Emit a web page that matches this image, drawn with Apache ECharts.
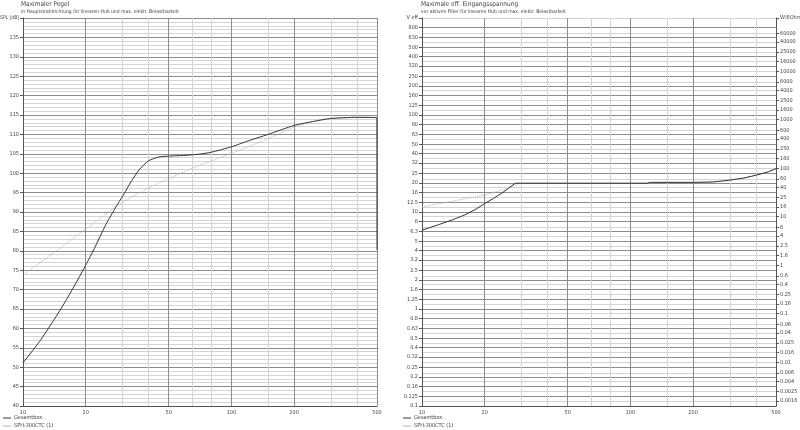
<!DOCTYPE html>
<html><head><meta charset="utf-8">
<script src="https://cdn.jsdelivr.net/npm/echarts@6/dist/echarts.min.js"></script>
<style>html,body{margin:0;padding:0;background:#fff}#c{width:800px;height:430px}</style>
</head><body><div id="c"></div>
<script>
// ---- Left panel: maximum SPL ----
const splFreq    = [10, 12, 14, 16, 18, 20, 22, 25, 28, 30, 33, 36, 40, 45, 50, 60, 70, 80, 100, 120, 150, 200, 250, 300, 400, 499, 500];
const splGesamt  = [51.1, 56.6, 62.0, 67.0, 71.8, 76.3, 80.6, 86.8, 91.4, 94.0, 97.8, 100.8, 103.2, 104.2, 104.4, 104.6, 104.9, 105.4, 106.8, 108.3, 110.0, 112.3, 113.4, 114.1, 114.4, 114.3, 80.2];
const splSphFreq = [10, 15, 20, 25, 30, 40, 50, 70, 100, 150, 200, 250, 300, 400, 499];
const splSph     = [73.7, 80.6, 85.6, 89.5, 92.5, 96.2, 98.6, 102.0, 105.1, 108.9, 111.9, 113.3, 114.1, 114.4, 114.3];
// ---- Right panel: max. effective input voltage ----
const uFreq      = [10, 12, 14, 16, 18, 20, 22, 24, 26, 28, 30, 50, 100, 120, 125, 200, 250, 300, 350, 380, 420, 460, 500];
const uGesamt    = [6.5, 7.4, 8.3, 9.3, 10.6, 12.2, 13.8, 15.5, 17.5, 19.8, 19.8, 19.8, 19.8, 19.8, 20.2, 20.2, 20.4, 21.3, 22.4, 23.3, 24.6, 26.0, 28.0];
const uSphFreq   = [10, 15, 20, 24.4, 27, 29.2, 50, 100, 120, 125, 200, 250, 300, 350, 380, 420, 460, 500];
const uSph       = [11.3, 13.3, 15.0, 16.9, 18.3, 19.8, 19.8, 19.8, 19.8, 20.2, 20.2, 20.4, 21.3, 22.4, 23.3, 24.6, 26.0, 28.0];
// ---- Tick labels ----
const freqLabels = [10, 20, 50, 100, 200, 500];
const freqMinor  = [30, 40, 65, 80, 150, 300, 400];
const voltTicks  = [0.1,0.125,0.16,0.2,0.25,0.32,0.4,0.5,0.63,0.8,1,1.25,1.6,2,2.5,3.2,4,5,6.3,8,10,12.5,16,20,25,32,40,50,63,80,100,125,160,200,250,320,400,500,630,800,1000];
const powerTicks = [0.0016,0.0025,0.004,0.006,0.01,0.016,0.025,0.04,0.06,0.1,0.16,0.25,0.4,0.6,1,1.6,2.5,4,6,10,16,25,40,60,100,160,250,400,600,1000,1600,2500,4000,6000,10000,16000,25000,40000,60000,125000];
const seriesNames = ['Gesamtbox', 'SPH-300CTC (1)'];

const FONT = '"Liberation Sans Narrow","DejaVu Sans Condensed","Liberation Sans",sans-serif';
const TXT = '#444';
const MAJ = '#8c8c8c', MIN = '#d4d4d4', AX = '#555';
const fs = 5.5;

function pairs(xs, ys) { return xs.map((x, i) => [x, ys[i]]); }

function xAxisFor(grid) {
  return [
    { gridIndex: grid, type: 'log', logBase: 10, min: 10, max: 500,
      axisLine: { lineStyle: { color: AX } },
      axisTick: { show: false, customValues: freqLabels },
      axisLabel: { customValues: freqLabels, fontSize: fs, fontFamily: FONT, color: TXT, margin: 4 },
      splitLine: { show: true, lineStyle: { color: MAJ, width: 1 } } },
    { gridIndex: grid, type: 'log', logBase: 10, min: 10, max: 500, position: 'bottom',
      axisLine: { show: false }, axisLabel: { show: false },
      axisTick: { show: false, customValues: freqMinor },
      splitLine: { show: true, lineStyle: { color: MIN, width: 1 } } }
  ];
}

function legendAt(left) {
  return { orient: 'vertical', left: left, top: 415, padding: 0, itemWidth: 8, itemHeight: 1, itemGap: 2,
    icon: 'rect', textStyle: { fontSize: fs, color: TXT, fontFamily: FONT, padding: [0, 0, 0, -2] },
    data: seriesNames, selectedMode: false };
}

const option = {
  animation: false,
  backgroundColor: '#fff',
  textStyle: { fontFamily: FONT },
  title: [
    { text: 'Maximaler Pegel', subtext: 'in Hauptstrahlrichtung für linearen Hub und max. elektr. Belastbarkeit',
      left: 21, top: 1, itemGap: 1, padding: 0,
      textStyle: { fontSize: 6.5, fontWeight: 'normal', color: TXT, fontFamily: FONT },
      subtextStyle: { fontSize: 5, color: TXT, fontFamily: FONT } },
    { text: 'Maximale eff. Eingangsspannung', subtext: 'vor aktiven Filter für linearen Hub und max. elektr. Belastbarkeit',
      left: 421, top: 1, itemGap: 1, padding: 0,
      textStyle: { fontSize: 6.5, fontWeight: 'normal', color: TXT, fontFamily: FONT },
      subtextStyle: { fontSize: 5, color: TXT, fontFamily: FONT } }
  ],
  legend: [legendAt(3), legendAt(403)],
  grid: [
    { left: 23, right: 423, top: 18, bottom: 24, outerBoundsMode: 'none', containLabel: false },
    { left: 422, right: 24, top: 18, bottom: 24, outerBoundsMode: 'none', containLabel: false }
  ],
  xAxis: [...xAxisFor(0), ...xAxisFor(1)],
  yAxis: [
    { gridIndex: 0, type: 'value', min: 40, max: 140, interval: 5,
      axisLine: { show: true, lineStyle: { color: AX } },
      axisTick: { show: true, length: 3, lineStyle: { color: AX } },
      axisLabel: { fontSize: fs, fontFamily: FONT, color: TXT, margin: 4,
        formatter: v => v === 140 ? '{n|SPL [dB]}' : String(v),
        rich: { n: { fontSize: 5, fontFamily: FONT, color: TXT } } },
      splitLine: { show: true, lineStyle: { color: MAJ } },
      minorTick: { show: false, splitNumber: 5 },
      minorSplitLine: { show: true, lineStyle: { color: MIN } } },
    { gridIndex: 1, type: 'log', logBase: 10, min: 0.1, max: 1000, position: 'left',
      axisLine: { show: true, lineStyle: { color: AX } },
      axisTick: { show: true, length: 3, lineStyle: { color: AX }, customValues: voltTicks },
      axisLabel: { customValues: voltTicks, fontSize: fs, fontFamily: FONT, color: TXT, margin: 4,
        formatter: v => v >= 1000 ? 'V eff' : String(v) },
      splitLine: { show: true, lineStyle: { color: MAJ } } },
    { gridIndex: 1, type: 'log', logBase: 10, min: 0.00125, max: 125000, position: 'right',
      axisLine: { show: true, lineStyle: { color: AX } },
      axisTick: { show: true, length: 3, lineStyle: { color: AX }, customValues: powerTicks },
      axisLabel: { customValues: powerTicks, fontSize: fs, fontFamily: FONT, color: TXT, margin: 4,
        formatter: v => v >= 100000 ? 'W/8Ohm' : String(v) },
      splitLine: { show: true, lineStyle: { color: MIN } } }
  ],
  series: [
    { name: seriesNames[1], type: 'line', xAxisIndex: 0, yAxisIndex: 0, data: pairs(splSphFreq, splSph),
      showSymbol: false, smooth: 0.2, lineStyle: { color: '#b4b4b4', width: 1, type: 'dotted' }, itemStyle: { color: '#b4b4b4' } },
    { name: seriesNames[0], type: 'line', xAxisIndex: 0, yAxisIndex: 0, data: pairs(splFreq, splGesamt),
      showSymbol: false, smooth: 0.2, lineStyle: { color: '#333', width: 1 }, itemStyle: { color: '#333' } },
    { name: seriesNames[1], type: 'line', xAxisIndex: 2, yAxisIndex: 1, data: pairs(uSphFreq, uSph),
      showSymbol: false, lineStyle: { color: '#b4b4b4', width: 1, type: 'dotted' }, itemStyle: { color: '#b4b4b4' } },
    { name: seriesNames[0], type: 'line', xAxisIndex: 2, yAxisIndex: 1, data: pairs(uFreq, uGesamt),
      showSymbol: false, lineStyle: { color: '#333', width: 1 }, itemStyle: { color: '#333' } }
  ]
};
const chart = echarts.init(document.getElementById('c'), null, { renderer: 'canvas' });
chart.setOption(option);
</script></body></html>
